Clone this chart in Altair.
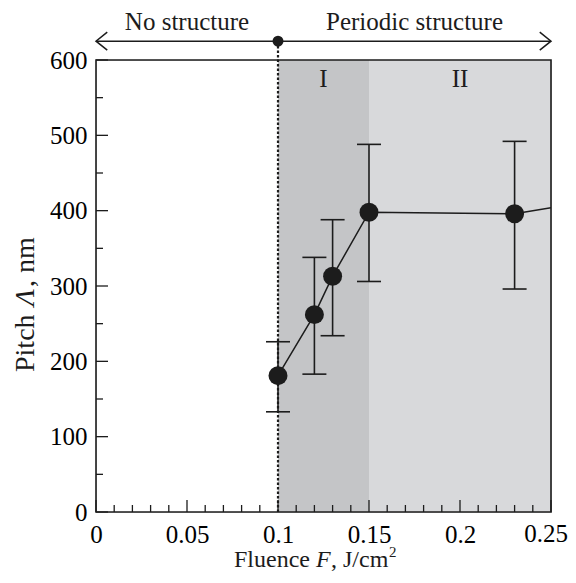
import altair as alt
import pandas as pd

# ---- data ----
fluence = [0.10, 0.12, 0.13, 0.15, 0.23]
pitch = [181, 262, 313, 398, 396]
err_low = [133, 183, 234, 306, 296]
err_high = [226, 338, 388, 488, 492]
trend_x = [0.10, 0.12, 0.13, 0.15, 0.23, 0.25]
trend_y = [181, 262, 313, 398, 396, 404]

region_start = [0.10, 0.15]
region_end = [0.15, 0.25]
region_label = ["I", "II"]
region_color = ["#c4c5c7", "#d8d9db"]
region_label_y = [564, 564]

threshold = [0.10]
arrow_y = [625]
arrow_from = [0.0]
arrow_to = [0.25]
phase_text = ["No structure", "Periodic structure"]
phase_x = [0.05, 0.175]
phase_y = [640, 640]

x_ticks = [0, 0.05, 0.1, 0.15, 0.2, 0.25]
x_tick_labels = ["0", "0.05", "0.1", "0.15", "0.2", "0.25"]
x_minor = [0.01, 0.02, 0.03, 0.04, 0.06, 0.07, 0.08, 0.09, 0.11, 0.12, 0.13,
           0.14, 0.16, 0.17, 0.18, 0.19, 0.21, 0.22, 0.23, 0.24]
y_ticks = [0, 100, 200, 300, 400, 500, 600]
y_minor = [50, 150, 250, 350, 450, 550]

W, H = 455, 452
FONT = "Liberation Serif"
INK = "#1c1c1c"

xs = alt.Scale(domain=[x_ticks[0], x_ticks[-1]], nice=False, zero=False)
ys = alt.Scale(domain=[y_ticks[0], y_ticks[-1]], nice=False, zero=False)

x_axis = alt.Axis(values=x_ticks[:-1], format="~g", tickSize=0, domain=False, grid=False,
                  labelFont=FONT, labelFontSize=25, labelColor="black", labelPadding=10,
                  title=None, labelFlush=False)
y_axis = alt.Axis(values=y_ticks, tickSize=0, domain=False, grid=False,
                  labelFont=FONT, labelFontSize=25, labelColor="black", labelPadding=9,
                  title=None)


def X(field, **kw):
    return alt.X(field, type="quantitative", scale=xs, axis=x_axis, **kw)


def Y(field, **kw):
    return alt.Y(field, type="quantitative", scale=ys, axis=y_axis, **kw)


pts = pd.DataFrame({"F": fluence, "P": pitch, "lo": err_low, "hi": err_high})
trend = pd.DataFrame({"F": trend_x, "P": trend_y})
regions = pd.DataFrame({"a": region_start, "b": region_end, "lab": region_label,
                        "c": region_color, "ly": region_label_y,
                        "mx": [(a + b) / 2 for a, b in zip(region_start, region_end)]})

bands = alt.Chart(regions).mark_rect(opacity=1).encode(
    x=X("a"), x2="b", y=alt.value(0), y2=alt.value(H),
    color=alt.Color("c:N", scale=None))

band_labels = alt.Chart(regions).mark_text(font=FONT, fontSize=25, color=INK,
                                           baseline="alphabetic").encode(
    x=X("mx"), y=Y("ly"), text="lab:N")

thr = pd.DataFrame({"x": threshold, "y0": [y_ticks[0]], "y1": arrow_y})
dotted = alt.Chart(thr).mark_rule(strokeDash=[2.5, 2], strokeWidth=2.2, color=INK).encode(
    x=X("x"), y=Y("y0"), y2="y1")
dot = alt.Chart(thr).mark_point(filled=True, size=120, color=INK, opacity=1).encode(
    x=X("x"), y=Y("y1"))

arr = pd.DataFrame({"a": arrow_from, "b": arrow_to, "y": arrow_y})
arrow_line = alt.Chart(arr).mark_rule(strokeWidth=1.5, color=INK).encode(
    x=X("a"), x2="b", y=Y("y"))
left_head = alt.Chart(arr).mark_point(shape="M1.25,-1L0,0L1.25,1", size=324, filled=False,
                                      strokeWidth=1.5, color=INK, opacity=1).encode(
    x=X("a"), y=Y("y"))
right_head = alt.Chart(arr).mark_point(shape="M-1.25,-1L0,0L-1.25,1", size=324, filled=False,
                                       strokeWidth=1.5, color=INK, opacity=1).encode(
    x=X("b"), y=Y("y"))

phase = pd.DataFrame({"x": phase_x, "y": phase_y, "t": phase_text})
phase_labels = alt.Chart(phase).mark_text(font=FONT, fontSize=25, color=INK,
                                          baseline="alphabetic").encode(
    x=X("x"), y=Y("y"), text="t:N")

line = alt.Chart(trend).mark_line(color=INK, strokeWidth=1.5, clip=True).encode(
    x=X("F"), y=Y("P"))
bars = alt.Chart(pts).mark_rule(color=INK, strokeWidth=1.6).encode(
    x=X("F"), y=Y("lo"), y2="hi")
cap_lo = alt.Chart(pts).mark_tick(orient="horizontal", size=24, thickness=1.6, color=INK,
                                  opacity=1).encode(x=X("F"), y=Y("lo"))
cap_hi = alt.Chart(pts).mark_tick(orient="horizontal", size=24, thickness=1.6, color=INK,
                                  opacity=1).encode(x=X("F"), y=Y("hi"))
points = alt.Chart(pts).mark_point(filled=True, size=360, color=INK, opacity=1).encode(
    x=X("F"), y=Y("P"))

frame = alt.Chart(pd.DataFrame({"a": [x_ticks[0]], "b": [x_ticks[-1]],
                                "c": [y_ticks[0]], "d": [y_ticks[-1]]})).mark_rect(
    filled=False, stroke=INK, strokeWidth=1.6, fill=None).encode(
    x=X("a"), x2="b", y=Y("c"), y2="d")

xt_major = alt.Chart(pd.DataFrame({"v": x_ticks})).mark_rule(color=INK, strokeWidth=1.3).encode(
    x=X("v"), y=alt.value(H), y2=alt.value(H - 12))
xt_minor = alt.Chart(pd.DataFrame({"v": x_minor})).mark_rule(color=INK, strokeWidth=1.3).encode(
    x=X("v"), y=alt.value(H), y2=alt.value(H - 7))
yt_major = alt.Chart(pd.DataFrame({"v": y_ticks})).mark_rule(color=INK, strokeWidth=1.3).encode(
    y=Y("v"), x=alt.value(0), x2=alt.value(12))
yt_minor = alt.Chart(pd.DataFrame({"v": y_minor})).mark_rule(color=INK, strokeWidth=1.3).encode(
    y=Y("v"), x=alt.value(0), x2=alt.value(7))

# last x tick label, pulled in slightly so it stays on the page
last_label = alt.Chart(pd.DataFrame({"v": [x_ticks[-1]], "t": [x_tick_labels[-1]]})).mark_text(
    font=FONT, fontSize=25, color="black", align="right", baseline="top", dx=17).encode(
    x=X("v"), y=alt.value(H + 10), text="t:N")


def piece(text, px, py, size=24, italic=False, angle=0):
    kw = dict(font=FONT, fontSize=size, color=INK, align="left", baseline="alphabetic")
    if italic:
        kw["fontStyle"] = "italic"
    if angle:
        kw["angle"] = angle
    return alt.Chart(pd.DataFrame({"t": [text]})).mark_text(**kw).encode(
        text="t:N", x=alt.value(px), y=alt.value(py))


# x-axis title: Fluence F, J/cm²
xt0, xb = 138, 507
xtitle = [
    piece("Fluence", xt0, xb),
    piece("F", xt0 + 82, xb, italic=True),
    piece(", J/cm", xt0 + 97, xb),
    piece("2", xt0 + 155, xb - 10, size=15),
]
# y-axis title: Pitch Λ, nm (rotated)
yt0, yx = 312, -62
ytitle = [
    piece("Pitch", yx, yt0, size=28, angle=270),
    piece("Λ", yx, yt0 - 66, size=28, italic=True, angle=270),
    piece(", nm", yx, yt0 - 85, size=28, angle=270),
]

chart = alt.layer(
    bands, band_labels, dotted, line, bars, cap_lo, cap_hi, points,
    frame, xt_major, xt_minor, yt_major, yt_minor, last_label,
    arrow_line, left_head, right_head, dot, phase_labels,
    *xtitle, *ytitle,
).properties(
    width=W, height=H,
    autosize=alt.AutoSizeParams(type="none"),
    padding={"left": 88, "top": 52, "right": 17, "bottom": 63},
).configure_view(stroke=None).configure(background="white")

chart.save("out.html", embed_options={"renderer": "svg", "actions": False})
